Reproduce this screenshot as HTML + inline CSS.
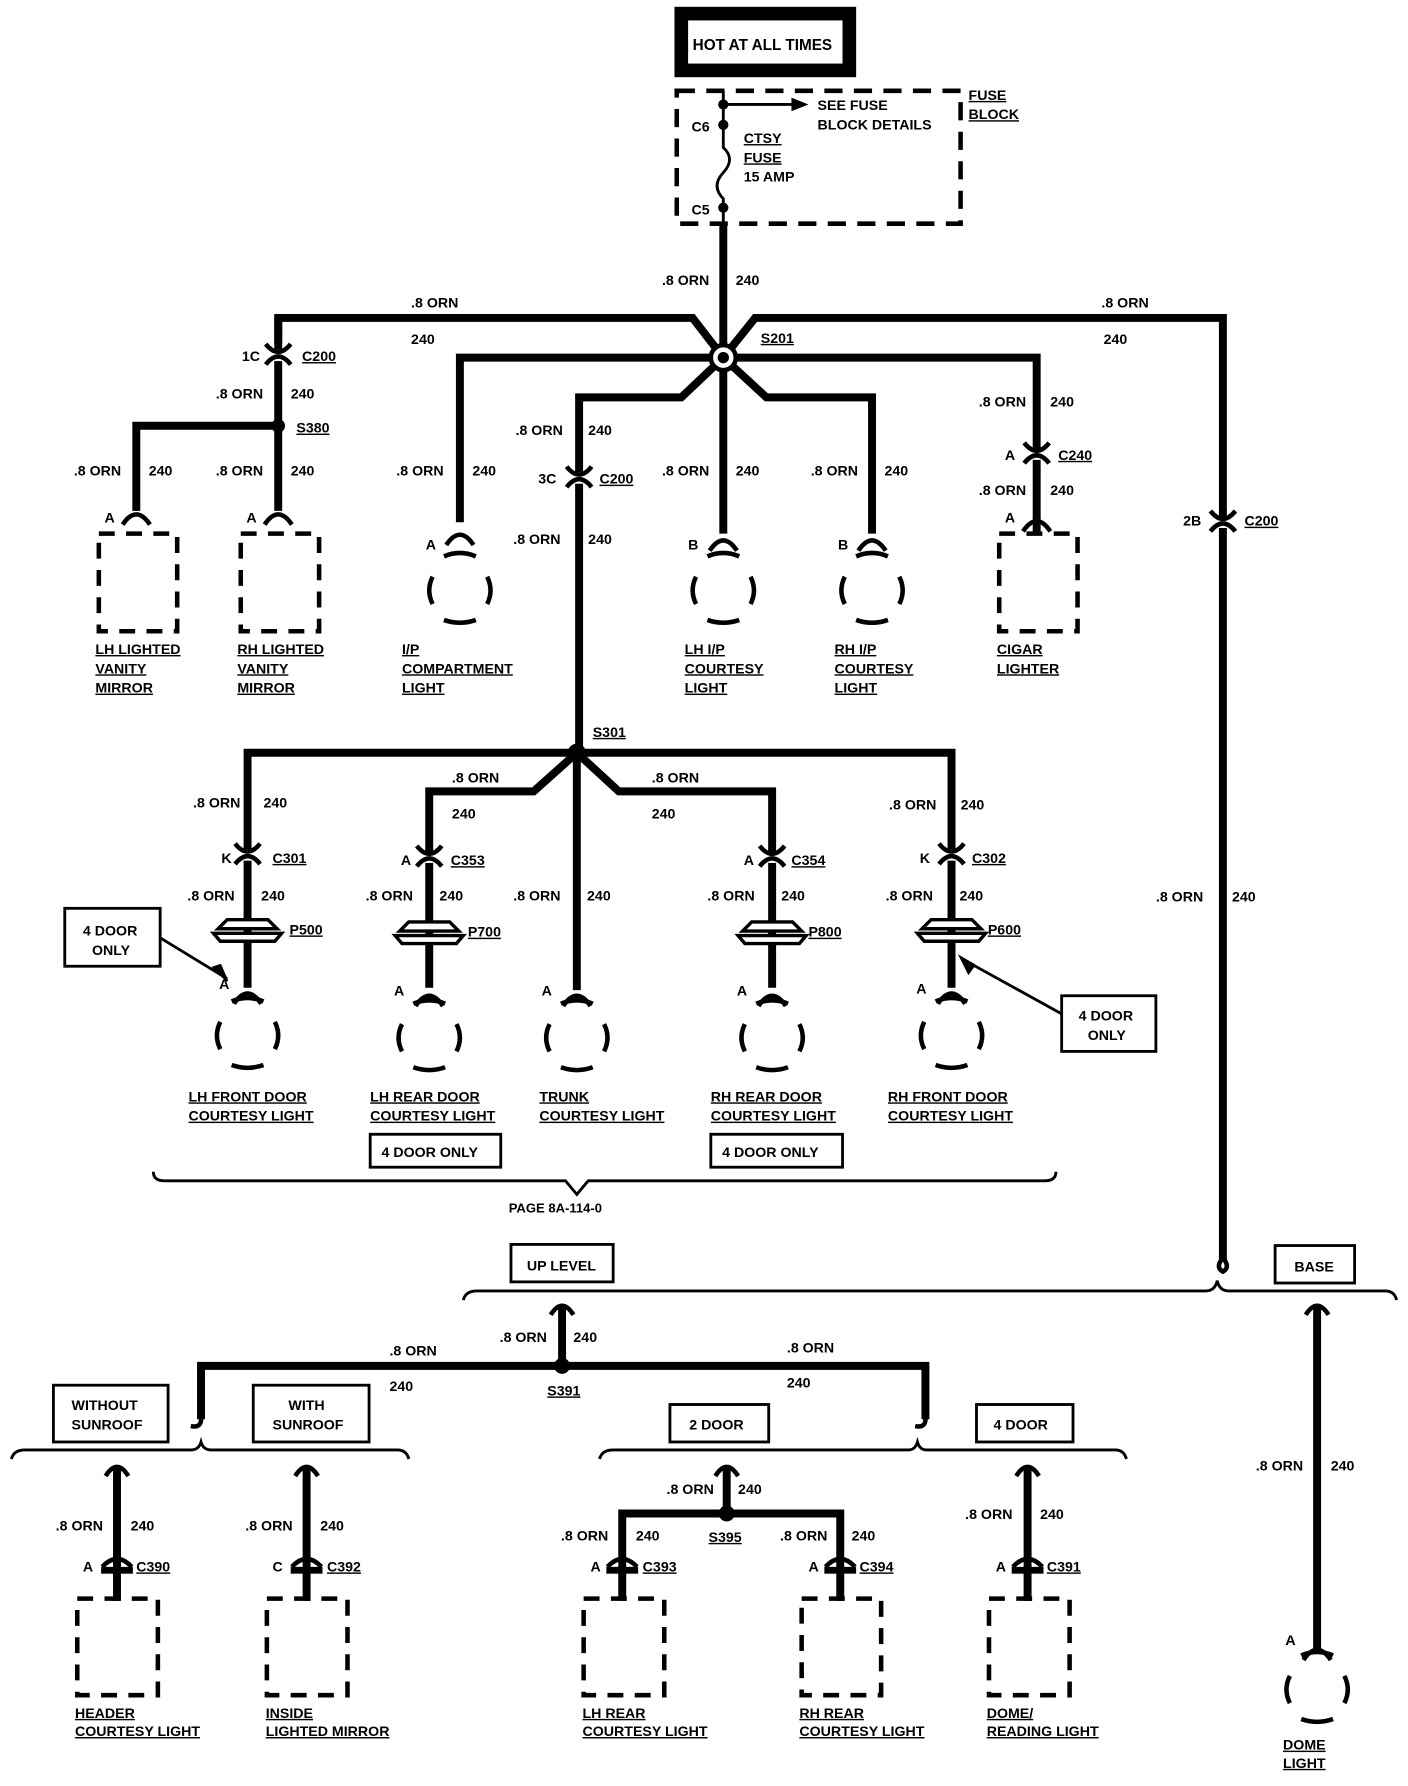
<!DOCTYPE html>
<html><head><meta charset="utf-8"><style>
html,body{margin:0;padding:0;background:#fff;}
svg{display:block}
text{font-family:"Liberation Sans",sans-serif;font-weight:bold;font-size:12.5px;fill:#000}
.u{text-decoration:underline}
</style></head><body>
<svg width="1408" height="1786" viewBox="0 0 1240 1573" xmlns="http://www.w3.org/2000/svg">
<defs>
<g id="conn"><rect x="-6" y="-5" width="12" height="10" fill="#fff"/><path d="M-11,-10 Q0,4 11,-10" fill="none" stroke="#000" stroke-width="4"/><path d="M-11,8 Q0,-6 11,8" fill="none" stroke="#000" stroke-width="4"/></g>
<g id="fork"><path d="M-12,10 Q0,-8 12,10" fill="none" stroke="#000" stroke-width="4"/></g>
<g id="bulb" fill="none" stroke="#000" stroke-width="4"><path d="M-14,-30 Q0,-36 14,-30"/><path d="M-24,-12 Q-30,0 -24,12"/><path d="M24,-12 Q30,0 24,12"/><path d="M-14,26 Q0,31 14,26"/></g>
<g id="pc" stroke="#000" stroke-width="3" fill="#fff"><path d="M-18,-10 L18,-10 L26,-2 L-26,-2 Z"/><path d="M-30,2 L30,2 L24,9 L-24,9 Z"/></g>
<g id="bc" stroke="#000" fill="none"><path d="M-13,0 Q0,-14 13,0" stroke-width="4"/><rect x="-14" y="0" width="28" height="6" fill="#000" stroke="none"/></g>
</defs>
<g stroke="#000" stroke-width="7" fill="none" stroke-linejoin="miter">
<!-- trunk -->
<path d="M637,197 V315"/>
<path d="M245,302 V280 H610 L637,315 L665,280 H1077 V1110"/>
<path d="M245,280 V450"/>
<path d="M120,450 V375 H245"/>
<path d="M405,460 V315 H913 V470"/>
<path d="M637,315 V470"/>
<path d="M637,315 L600,350 H510 V663"/>
<path d="M637,315 L675,350 H768 V470"/>
<!-- S301 -->
<path d="M218,870 V663 H838 V870"/>
<path d="M508,663 L470,697 H378 V870"/>
<path d="M508,663 L545,697 H680 V870"/>
<path d="M508,663 V872"/>
<!-- bottom -->
<path d="M495,1150 V1203"/>
<path d="M177,1250 V1203 H815 V1250"/>
<path d="M1160,1150 V1455"/>
<path d="M103,1292 V1410"/>
<path d="M270,1292 V1410"/>
<path d="M640,1292 V1333"/>
<path d="M548,1410 V1333 H740 V1410"/>
<path d="M905,1292 V1410"/>
</g>
<!-- fuse block -->
<rect x="594" y="6" width="160" height="62" fill="#000"/>
<rect x="606" y="18" width="136" height="38" fill="#fff"/>
<text x="610" y="44" style="font-size:13.5px">HOT AT ALL TIMES</text>
<rect x="596" y="80" width="250" height="117" fill="none" stroke="#000" stroke-width="4" stroke-dasharray="16 10"/>
<path d="M637,80 V130 Q648,140 637,152 Q626,164 637,175 V197" stroke="#000" stroke-width="2.5" fill="none"/>
<path d="M637,92 H700" stroke="#000" stroke-width="2.5"/><path d="M697,86 L712,92 L697,98 Z"/>
<circle cx="637" cy="92" r="4.5"/><circle cx="637" cy="110" r="4.5"/><circle cx="637" cy="183" r="4.5"/>
<text x="720" y="97">SEE FUSE</text><text x="720" y="114">BLOCK DETAILS</text>
<text x="609" y="116">C6</text><text x="609" y="189">C5</text>
<text x="655" y="126" class="u">CTSY</text><text x="655" y="143" class="u">FUSE</text><text x="655" y="160">15 AMP</text>
<text x="853" y="88" class="u">FUSE</text><text x="853" y="105" class="u">BLOCK</text>
<text x="583" y="251">.8 ORN</text><text x="648" y="251">240</text>
<circle cx="637" cy="315" r="11" fill="#fff" stroke="#000" stroke-width="4"/><circle cx="637" cy="315" r="5"/>
<text x="670" y="302" class="u">S201</text>
<text x="362" y="271">.8 ORN</text><text x="362" y="303">240</text>
<text x="970" y="271">.8 ORN</text><text x="972" y="303">240</text>
<!-- vanity -->
<use href="#conn" x="245" y="313"/>
<text x="213" y="318">1C</text><text x="266" y="318" class="u">C200</text>
<text x="190" y="351">.8 ORN</text><text x="256" y="351">240</text>
<circle cx="245" cy="375" r="6"/><text x="261" y="381" class="u">S380</text>
<text x="65" y="419">.8 ORN</text><text x="131" y="419">240</text>
<text x="190" y="419">.8 ORN</text><text x="256" y="419">240</text>
<use href="#fork" x="120" y="452"/><use href="#fork" x="245" y="452"/>
<text x="92" y="460">A</text><text x="217" y="460">A</text>
<rect x="87" y="470" width="69" height="86" fill="none" stroke="#000" stroke-width="4" stroke-dasharray="14 10"/>
<rect x="212" y="470" width="69" height="86" fill="none" stroke="#000" stroke-width="4" stroke-dasharray="14 10"/>
<text x="84" y="576" class="u">LH LIGHTED</text><text x="84" y="593" class="u">VANITY</text><text x="84" y="610" class="u">MIRROR</text>
<text x="209" y="576" class="u">RH LIGHTED</text><text x="209" y="593" class="u">VANITY</text><text x="209" y="610" class="u">MIRROR</text>
<!-- I/P etc -->
<text x="349" y="419">.8 ORN</text><text x="416" y="419">240</text>
<text x="583" y="419">.8 ORN</text><text x="648" y="419">240</text>
<text x="714" y="419">.8 ORN</text><text x="779" y="419">240</text>
<use href="#fork" x="405" y="470"/><use href="#fork" x="637" y="475"/><use href="#fork" x="768" y="475"/>
<text x="375" y="484">A</text><text x="606" y="484">B</text><text x="738" y="484">B</text>
<use href="#bulb" x="405" y="520"/><use href="#bulb" x="637" y="520"/><use href="#bulb" x="768" y="520"/>
<text x="354" y="576" class="u">I/P</text><text x="354" y="593" class="u">COMPARTMENT</text><text x="354" y="610" class="u">LIGHT</text>
<text x="603" y="576" class="u">LH I/P</text><text x="603" y="593" class="u">COURTESY</text><text x="603" y="610" class="u">LIGHT</text>
<text x="735" y="576" class="u">RH I/P</text><text x="735" y="593" class="u">COURTESY</text><text x="735" y="610" class="u">LIGHT</text>
<!-- cigar -->
<text x="862" y="358">.8 ORN</text><text x="925" y="358">240</text>
<use href="#conn" x="913" y="400"/><text x="885" y="405">A</text><text x="932" y="405" class="u">C240</text>
<text x="862" y="436">.8 ORN</text><text x="925" y="436">240</text>
<use href="#fork" x="913" y="458"/><text x="885" y="460">A</text>
<rect x="880" y="470" width="69" height="86" fill="none" stroke="#000" stroke-width="4" stroke-dasharray="14 10"/>
<text x="878" y="576" class="u">CIGAR</text><text x="878" y="593" class="u">LIGHTER</text>
<!-- center -->
<text x="454" y="383">.8 ORN</text><text x="518" y="383">240</text>
<use href="#conn" x="510" y="421"/><text x="474" y="426">3C</text><text x="528" y="426" class="u">C200</text>
<text x="452" y="479">.8 ORN</text><text x="518" y="479">240</text>
<!-- right long -->
<use href="#conn" x="1077" y="460"/><text x="1042" y="463">2B</text><text x="1096" y="463" class="u">C200</text>
<text x="1018" y="794">.8 ORN</text><text x="1085" y="794">240</text>
<!-- S301 -->
<circle cx="508" cy="663" r="8"/><text x="522" y="649" class="u">S301</text>
<text x="170" y="711">.8 ORN</text><text x="232" y="711">240</text>
<text x="398" y="689">.8 ORN</text><text x="398" y="721">240</text>
<text x="574" y="689">.8 ORN</text><text x="574" y="721">240</text>
<text x="783" y="713">.8 ORN</text><text x="846" y="713">240</text>
<use href="#conn" x="218" y="753"/><use href="#conn" x="378" y="755"/><use href="#conn" x="680" y="755"/><use href="#conn" x="838" y="753"/>
<text x="195" y="760">K</text><text x="240" y="760" class="u">C301</text>
<text x="353" y="762">A</text><text x="397" y="762" class="u">C353</text>
<text x="655" y="762">A</text><text x="697" y="762" class="u">C354</text>
<text x="810" y="760">K</text><text x="856" y="760" class="u">C302</text>
<text x="165" y="793">.8 ORN</text><text x="230" y="793">240</text>
<text x="322" y="793">.8 ORN</text><text x="387" y="793">240</text>
<text x="452" y="793">.8 ORN</text><text x="517" y="793">240</text>
<text x="623" y="793">.8 ORN</text><text x="688" y="793">240</text>
<text x="780" y="793">.8 ORN</text><text x="845" y="793">240</text>
<use href="#pc" x="218" y="820"/><use href="#pc" x="378" y="822"/><use href="#pc" x="680" y="822"/><use href="#pc" x="838" y="820"/>
<text x="255" y="823" class="u">P500</text><text x="412" y="825" class="u">P700</text><text x="712" y="825" class="u">P800</text><text x="870" y="823" class="u">P600</text>
<use href="#fork" x="218" y="874"/><use href="#fork" x="378" y="876"/><use href="#fork" x="508" y="876"/><use href="#fork" x="680" y="876"/><use href="#fork" x="838" y="874"/>
<text x="193" y="871">A</text><text x="347" y="877">A</text><text x="477" y="877">A</text><text x="649" y="877">A</text><text x="807" y="875">A</text>
<use href="#bulb" x="218" y="912"/><use href="#bulb" x="378" y="914"/><use href="#bulb" x="508" y="914"/><use href="#bulb" x="680" y="914"/><use href="#bulb" x="838" y="912"/>
<text x="166" y="970" class="u">LH FRONT DOOR</text><text x="166" y="987" class="u">COURTESY LIGHT</text>
<text x="326" y="970" class="u">LH REAR DOOR</text><text x="326" y="987" class="u">COURTESY LIGHT</text>
<text x="475" y="970" class="u">TRUNK</text><text x="475" y="987" class="u">COURTESY LIGHT</text>
<text x="626" y="970" class="u">RH REAR DOOR</text><text x="626" y="987" class="u">COURTESY LIGHT</text>
<text x="782" y="970" class="u">RH FRONT DOOR</text><text x="782" y="987" class="u">COURTESY LIGHT</text>
<g fill="none" stroke="#000" stroke-width="2.5">
<rect x="326" y="999" width="115" height="29"/><rect x="626" y="999" width="116" height="29"/>
<rect x="57" y="800" width="84" height="51"/><rect x="935" y="877" width="83" height="49"/>
<path d="M141,826 L200,862"/><path d="M935,893 L850,846"/>
<path d="M135,1032 Q135,1040 145,1040 H498 L508,1052 L518,1040 H920 Q930,1040 930,1032"/>
</g>
<path d="M200,864 L188,852 L194,850 Z M846,843 L853,857 L858,850 Z" stroke="#000" stroke-width="2"/>
<text x="336" y="1019">4 DOOR ONLY</text><text x="636" y="1019">4 DOOR ONLY</text>
<text x="73" y="824">4 DOOR</text><text x="81" y="841">ONLY</text>
<text x="950" y="899">4 DOOR</text><text x="958" y="916">ONLY</text>
<text x="448" y="1068" style="font-size:11.5px">PAGE 8A-114-0</text>
<!-- lower section -->
<path d="M1077,1108 Q1070,1116 1077,1120 Q1084,1116 1077,1108" stroke="#000" stroke-width="4" fill="none"/>
<g fill="none" stroke="#000" stroke-width="2.5">
<rect x="450" y="1096" width="90" height="33"/><rect x="1123" y="1097" width="70" height="33"/>
<path d="M408,1145 Q410,1137 420,1137 H1062 Q1070,1137 1072,1128 Q1074,1137 1082,1137 H1220 Q1228,1137 1230,1145"/>
<rect x="47" y="1220" width="101" height="50"/><rect x="223" y="1220" width="102" height="50"/>
<path d="M10,1285 Q12,1277 22,1277 H168 Q175,1277 177,1270 Q179,1277 186,1277 H350 Q358,1277 360,1285"/>
<rect x="590" y="1237" width="87" height="33"/><rect x="860" y="1237" width="85" height="33"/>
<path d="M528,1285 Q530,1277 540,1277 H800 Q806,1277 808,1270 Q810,1277 816,1277 H982 Q990,1277 992,1285"/>
</g>
<text x="464" y="1119">UP LEVEL</text><text x="1140" y="1120">BASE</text>
<text x="63" y="1242">WITHOUT</text><text x="63" y="1259">SUNROOF</text>
<text x="254" y="1242">WITH</text><text x="240" y="1259">SUNROOF</text>
<text x="607" y="1259">2 DOOR</text><text x="875" y="1259">4 DOOR</text>
<g fill="none" stroke="#000" stroke-width="4">
<path d="M177,1248 Q178,1258 168,1256"/><path d="M815,1248 Q816,1258 806,1256"/>
<path d="M485,1158 Q495,1142 505,1158"/><path d="M1150,1158 Q1160,1142 1170,1158"/>
<path d="M93,1300 Q103,1284 113,1300"/><path d="M260,1300 Q270,1284 280,1300"/>
<path d="M630,1300 Q640,1284 650,1300"/><path d="M895,1300 Q905,1284 915,1300"/>
</g>
<text x="440" y="1182">.8 ORN</text><text x="505" y="1182">240</text>
<circle cx="495" cy="1203" r="7"/><text x="482" y="1229" class="u">S391</text>
<text x="343" y="1194">.8 ORN</text><text x="343" y="1225">240</text>
<text x="693" y="1191">.8 ORN</text><text x="693" y="1222">240</text>
<text x="1106" y="1295">.8 ORN</text><text x="1172" y="1295">240</text>
<use href="#fork" x="1160" y="1452"/><text x="1132" y="1449">A</text>
<use href="#bulb" x="1160" y="1488"/>
<text x="1130" y="1541" class="u">DOME</text><text x="1130" y="1557" class="u">LIGHT</text>
<!-- bottom components -->
<text x="49" y="1348">.8 ORN</text><text x="115" y="1348">240</text>
<use href="#bc" x="103" y="1380"/><text x="73" y="1384">A</text><text x="120" y="1384" class="u">C390</text>
<text x="216" y="1348">.8 ORN</text><text x="282" y="1348">240</text>
<use href="#bc" x="270" y="1380"/><text x="240" y="1384">C</text><text x="288" y="1384" class="u">C392</text>
<text x="587" y="1316">.8 ORN</text><text x="650" y="1316">240</text>
<circle cx="640" cy="1333" r="7"/><text x="624" y="1358" class="u">S395</text>
<text x="494" y="1357">.8 ORN</text><text x="560" y="1357">240</text>
<text x="687" y="1357">.8 ORN</text><text x="750" y="1357">240</text>
<use href="#bc" x="548" y="1380"/><text x="520" y="1384">A</text><text x="566" y="1384" class="u">C393</text>
<use href="#bc" x="740" y="1380"/><text x="712" y="1384">A</text><text x="757" y="1384" class="u">C394</text>
<text x="850" y="1338">.8 ORN</text><text x="916" y="1338">240</text>
<use href="#bc" x="905" y="1380"/><text x="877" y="1384">A</text><text x="922" y="1384" class="u">C391</text>
<g fill="none" stroke="#000" stroke-width="4" stroke-dasharray="14 10">
<rect x="68" y="1408" width="71" height="85"/><rect x="235" y="1408" width="71" height="85"/>
<rect x="514" y="1408" width="71" height="85"/><rect x="706" y="1408" width="70" height="85"/>
<rect x="871" y="1408" width="71" height="85"/>
</g>
<text x="66" y="1513" class="u">HEADER</text><text x="66" y="1529" class="u">COURTESY LIGHT</text>
<text x="234" y="1513" class="u">INSIDE</text><text x="234" y="1529" class="u">LIGHTED MIRROR</text>
<text x="513" y="1513" class="u">LH REAR</text><text x="513" y="1529" class="u">COURTESY LIGHT</text>
<text x="704" y="1513" class="u">RH REAR</text><text x="704" y="1529" class="u">COURTESY LIGHT</text>
<text x="869" y="1513" class="u">DOME/</text><text x="869" y="1529" class="u">READING LIGHT</text>
</svg>
</body></html>
